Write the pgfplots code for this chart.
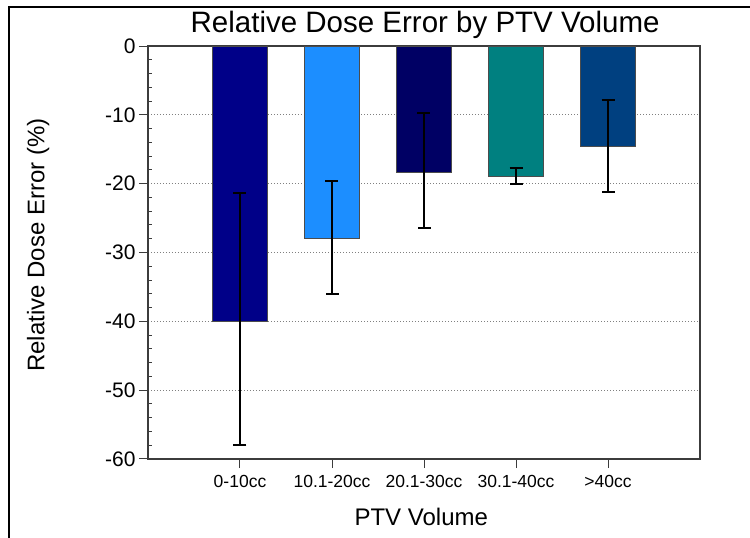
\documentclass[border=0pt]{standalone}
\usepackage{pgfplots}
\pgfplotsset{compat=1.18}
\usepackage{fontspec}
\setmainfont{Liberation Sans}
\definecolor{c1}{RGB}{0,0,136}
\definecolor{c2}{RGB}{28,142,255}
\definecolor{c3}{RGB}{0,0,100}
\definecolor{c4}{RGB}{0,128,128}
\definecolor{c5}{RGB}{0,64,128}
\definecolor{axc}{RGB}{60,60,60}
\begin{document}
\begin{tikzpicture}[x=1pt,y=1pt]
\begin{axis}[
  width=552pt, height=413pt, scale only axis,
  xmin=-1, xmax=5, ymin=-60, ymax=0,
  xtick={0,1,2,3,4},
  xticklabels={0-10cc,10.1-20cc,20.1-30cc,30.1-40cc,>40cc},
  ytick={-60,-50,-40,-30,-20,-10,0},
  minor y tick num=4,
  xtick pos=bottom, ytick pos=left,
  tick align=outside,
  major tick length=9pt,
  minor tick length=4.5pt,
  major x tick style={line width=1pt, axc},
  major y tick style={line width=1pt, axc},
  minor y tick style={line width=1pt, axc, xshift=4.5pt},
  axis line style={line width=1.2pt, axc},
  ymajorgrids,
  major grid style={gray, line width=1pt, dash pattern=on 1pt off 2pt},
  /pgf/number format/assume math mode=true,
  yticklabel style={font=\fontsize{21}{21}\selectfont},
  xticklabel style={font=\fontsize{17.5}{17.5}\selectfont, yshift=-4pt},
  title={Relative Dose Error by PTV Volume},
  title style={font=\fontsize{29.5}{29.5}\selectfont, at={(axis description cs:0.502,1.017)}, anchor=base, yshift=0pt},
  xlabel={PTV Volume},
  xlabel style={font=\fontsize{24}{24}\selectfont, at={(axis description cs:0.495,-0.14)}, anchor=center},
  ylabel={Relative Dose Error (\%)},
  ylabel style={font=\fontsize{24}{24}\selectfont, at={(axis description cs:-0.199,0.518)}, anchor=center},
  ybar, bar width=0.6, bar shift=0pt,
  every axis plot/.append style={draw=black!70, line width=0.6pt},
  error bars/error bar style={black, line width=2pt},
  error bars/error mark options={black, rotate=90, mark size=6.5pt, line width=2pt},
]
\coordinate (O) at (rel axis cs:0,0);
\addplot[fill=c1, error bars/.cd, y dir=both, y explicit] coordinates {(0,-40.0) += (0,18.7) -= (0,18.0)};
\addplot[fill=c2, error bars/.cd, y dir=both, y explicit] coordinates {(1,-28.0) += (0,8.4) -= (0,8.0)};
\addplot[fill=c3, error bars/.cd, y dir=both, y explicit] coordinates {(2,-18.3) += (0,8.6) -= (0,8.2)};
\addplot[fill=c4, error bars/.cd, y dir=both, y explicit] coordinates {(3,-19.0) += (0,1.3) -= (0,1.1)};
\addplot[fill=c5, error bars/.cd, y dir=both, y explicit] coordinates {(4,-14.5) += (0,6.7) -= (0,6.7)};
\end{axis}
\pgfresetboundingbox
\useasboundingbox ([xshift=-148pt,yshift=-79pt]O) rectangle ([xshift=602pt,yshift=459pt]O);
\draw[line width=2.5pt,black] ([xshift=-139pt,yshift=-79pt]O) -- ([xshift=-139pt,yshift=452pt]O) -- ([xshift=602pt,yshift=452pt]O);
\end{tikzpicture}
\end{document}
